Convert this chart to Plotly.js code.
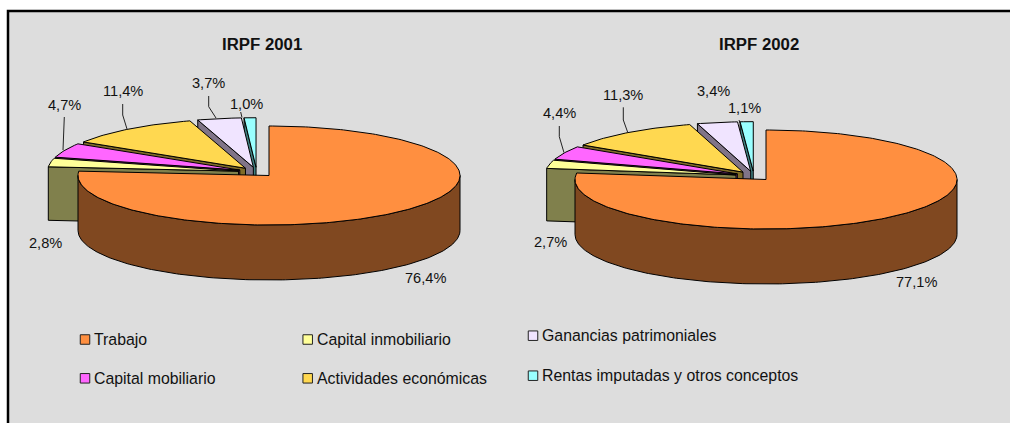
<!DOCTYPE html>
<html><head><meta charset="utf-8">
<script src="https://cdn.plot.ly/plotly-3.0.1.min.js"></script>
<style>html,body{margin:0;padding:0;background:#fff}#c{width:1010px;height:423px}</style></head>
<body><div id="c"></div>
<script>
// ---- data ----
const categories = ["Trabajo","Capital inmobiliario","Capital mobiliario","Actividades económicas","Ganancias patrimoniales","Rentas imputadas y otros conceptos"];
const irpf2001 = [76.4,2.8,4.7,11.4,3.7,1.0];
const irpf2002 = [77.1,2.7,4.4,11.3,3.4,1.1];
const pieTitles = ["IRPF 2001","IRPF 2002"];
const valueLabels2001 = ["76,4%","2,8%","4,7%","11,4%","3,7%","1,0%"];
const valueLabels2002 = ["77,1%","2,7%","4,4%","11,3%","3,4%","1,1%"];

// ---- style & layout ----
const topColors  = ["#FF8F40","#FFFF99","#FF66FF","#FFD850","#F0E4FF","#99FFFF"];
const sideColors = ["#804820","#80804C","#803380","#806C28","#807488","#408080"];
const FONT = "Liberation Sans, Arial, sans-serif";
const geom = [
  {cx:269,cy:175.5,rx:191,ry:49.5,depth:[55,53.5],title:[262,44],
   labels:[[425,277.5],[45.7,243.3],[64.5,105],[122.8,91],[208.7,83],[246.7,103.7]],
   leaders:[null,null,[[64.3,117],[63,150]],[[122.7,104],[122.7,115],[127,129]],[[208.7,96],[208.7,106.7],[216,118]],[[240.7,112],[242,117.5]]]},
  {cx:766,cy:179.5,rx:191,ry:49.5,depth:[55,52.5],title:[759,44],
   labels:[[916.7,282.3],[550,242.3],[559,113.3],[623,95],[713.7,91],[744.3,108.3]],
   leaders:[null,null,[[559.3,126],[559.3,136.7],[564,152.7]],[[623.3,107.3],[623.3,120],[627.7,132.3]],null,[[739,120],[740,123]]]}
];
const legendPos = [[85,339.5],[307.7,339.5],[85,378.3],[307.7,378.3],[533,335.7],[533,375.7]];
const legendTextDx = 7;
const EXPLODE = 0.096;

const rad = d => d*Math.PI/180;
const traces = [];
function poly(xs,ys,fill,name){
  traces.push({type:"scatter",mode:"lines",x:xs.concat(xs[0]),y:ys.concat(ys[0]),fill:"toself",fillcolor:fill,
    line:{color:"#000",width:1,shape:"linear"},hoverinfo:"skip",showlegend:false,name});
}
function drawPie(values,g){
  const total = values.reduce((a,b)=>a+b,0);
  const bounds=[0]; values.forEach(v=>bounds.push(bounds[bounds.length-1]+v/total*360));
  // true centre: the first slice's tip sits at (cx,cy)
  const shift = m=>[g.rx*EXPLODE*Math.sin(rad(m)),-g.ry*EXPLODE*Math.cos(rad(m))];
  const s0 = shift((bounds[0]+bounds[1])/2);
  const c0 = [g.cx-s0[0], g.cy-s0[1]];
  for(let i=values.length-1;i>=0;i--){
    const a=bounds[i], b=bounds[i+1], s=shift((a+b)/2);
    const tx=c0[0]+s[0], ty=c0[1]+s[1];
    const d = i===0?g.depth[0]:g.depth[1];
    const px = t=>tx+g.rx*Math.sin(rad(t)), py = t=>ty-g.ry*Math.cos(rad(t));
    if(i>0) poly([tx,px(a),px(a),tx],[ty,py(a),py(a)+d,ty+d],sideColors[i],categories[i]);
    const ra=Math.max(a,90), rb=Math.min(b,270);
    if(rb>ra){
      const up=[];
      for(let t=ra;t<=rb+1e-6;t+=1){up.push(t);}
      const xs=up.map(px).concat(up.slice().reverse().map(px));
      const ys=up.map(py).concat(up.slice().reverse().map(t=>py(t)+d));
      poly(xs,ys,sideColors[i],categories[i]);
    }
    const xs=[tx],ys=[ty];
    const n=Math.max(2,Math.ceil(b-a));
    for(let k=0;k<=n;k++){const t=a+(b-a)*k/n;xs.push(px(t));ys.push(py(t));}
    poly(xs,ys,topColors[i],categories[i]);
  }
}
drawPie(irpf2001,geom[0]);
drawPie(irpf2002,geom[1]);

// legend swatches
categories.forEach((c,i)=>traces.push({type:"scatter",mode:"markers",x:[legendPos[i][0]],y:[legendPos[i][1]],
  marker:{symbol:"square",size:9.5,color:topColors[i],line:{color:"#222",width:1}},hoverinfo:"skip",showlegend:false,name:c}));

const annotations=[], shapes=[];
shapes.push({type:"rect",layer:"below",xref:"x",yref:"y",x0:8,y0:11,x1:1030,y1:440,fillcolor:"#DDDDDD",line:{color:"#000",width:2.5}});
const txt=(x,y,text,size,extra)=>annotations.push(Object.assign({x,y,xref:"x",yref:"y",text,showarrow:false,xanchor:"center",yanchor:"middle",
  font:{family:FONT,size,color:"#111"}},extra||{}));
[valueLabels2001,valueLabels2002].forEach((lab,p)=>{
  const g=geom[p];
  txt(g.title[0],g.title[1],"<b>"+pieTitles[p]+"</b>",16.8);
  lab.forEach((l,i)=>{
    txt(g.labels[i][0],g.labels[i][1],l,14.6);
    const L=g.leaders[i];
    if(L) shapes.push({type:"path",xref:"x",yref:"y",path:"M"+L.map(q=>q.join(",")).join("L"),line:{color:"#222",width:1}});
  });
});
categories.forEach((c,i)=>txt(legendPos[i][0]+legendTextDx,legendPos[i][1],c,15.85,{xanchor:"left"}));

Plotly.newPlot("c",traces,{
  width:1010,height:423,margin:{l:0,r:0,t:0,b:0},paper_bgcolor:"#fff",plot_bgcolor:"rgba(0,0,0,0)",showlegend:false,
  xaxis:{range:[0,1010],visible:false,fixedrange:true},
  yaxis:{range:[423,0],visible:false,fixedrange:true},
  shapes,annotations
},{displayModeBar:false,staticPlot:true});
</script></body></html>
